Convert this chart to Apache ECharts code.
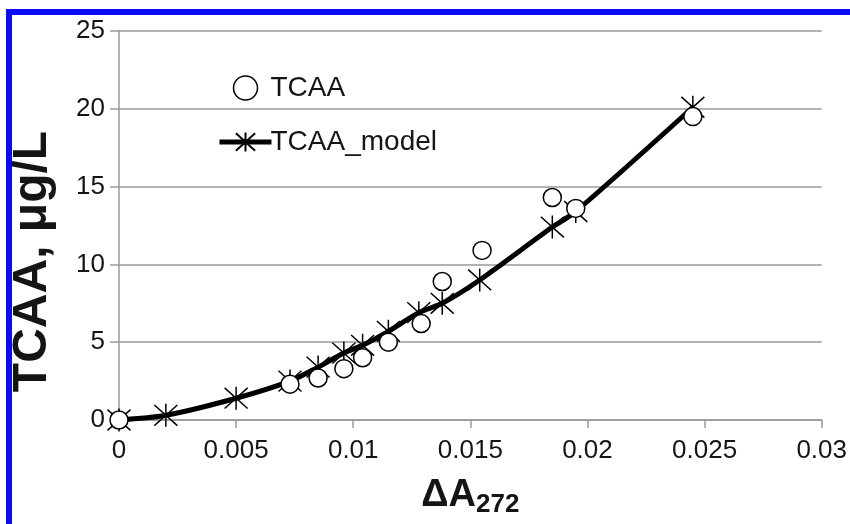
<!DOCTYPE html>
<html>
<head>
<meta charset="utf-8">
<script src="https://cdn.jsdelivr.net/npm/echarts@6/dist/echarts.min.js"></script>
<style>
  * { margin: 0; padding: 0; }
  body { background: #fff; }
  #main { width: 850px; height: 524px; }
  .frame {
    position: absolute; left: 6px; top: 9px; right: 0; bottom: 0;
    border-left: 6px solid #0b0bf5; border-top: 6px solid #0b0bf5;
    pointer-events: none;
  }
</style>
</head>
<body>
<div id="main"></div>
<div class="frame"></div>
<script>
  // measured TCAA
  var dA_meas = [0, 0.0073, 0.0085, 0.0096, 0.0104, 0.0115, 0.0129, 0.0138, 0.0155, 0.0185, 0.0195, 0.0245]
  var tcaa_meas = [0, 2.3, 2.7, 3.3, 4.0, 5.0, 6.2, 8.9, 10.9, 14.3, 13.6, 19.5]
  // model
  var dA_model = [0, 0.002, 0.005, 0.0073, 0.0085, 0.0096, 0.0104, 0.0115, 0.0128, 0.0138, 0.0154, 0.0185, 0.0195, 0.0245]
  var tcaa_model = [0, 0.3, 1.4, 2.5, 3.4, 4.3, 4.8, 5.7, 6.9, 7.5, 9.0, 12.4, 13.4, 20.1]
  var xTicks = ['0', '0.005', '0.01', '0.015', '0.02', '0.025', '0.03']

  function pairs(xs, ys) {
    return xs.map(function (x, i) { return [x, ys[i]] })
  }

  var star = 'path://M0,-10L0,10M-9,-9L9,9M-9,9L9,-9'
  var gray = '#9a9a9a'
  var txt = '#151515'

  var chart = echarts.init(document.getElementById('main'))
  chart.setOption({
    animation: false,
    textStyle: { fontFamily: 'Liberation Sans, Arial, sans-serif', color: txt },
    grid: { left: 119, right: 27, top: 31, bottom: 104 },
    legend: {
      orient: 'vertical',
      left: 212, top: 69,
      itemWidth: 52, itemHeight: 24, itemGap: 26,
      textStyle: { fontSize: 28, color: txt, padding: [0, 0, 0, -6] },
      data: [
        { name: 'TCAA', icon: 'circle', itemStyle: { color: '#fff', borderColor: '#000', borderWidth: 1.5 } },
        { name: 'TCAA_model', lineStyle: { color: '#000', width: 5 } }
      ]
    },
    xAxis: {
      type: 'value', min: 0, max: 0.03, interval: 0.005,
      name: '{a|ΔA}{b|272}', nameLocation: 'middle', nameGap: 54,
      nameTextStyle: {
        rich: {
          a: { fontSize: 38, fontWeight: 'bold', color: txt },
          b: { fontSize: 26, fontWeight: 'bold', color: txt, padding: [18, 0, 0, 0] }
        }
      },
      axisLine: { lineStyle: { color: gray, width: 1.5 } },
      axisTick: { length: 8, lineStyle: { color: gray, width: 1.5 } },
      axisLabel: {
        fontSize: 26, color: txt, margin: 18,
        formatter: function (v) { return xTicks[Math.round(v / 0.005)] }
      },
      splitLine: { show: false }
    },
    yAxis: {
      type: 'value', min: 0, max: 25, interval: 5,
      name: 'TCAA, μg/L', nameLocation: 'middle', nameGap: 62,
      nameTextStyle: { fontSize: 48, fontWeight: 'bold', color: txt, padding: [0, 72, 0, 0] },
      axisLine: { show: true, lineStyle: { color: gray, width: 1.5 } },
      axisTick: { show: true, length: 9, lineStyle: { color: gray, width: 1.5 } },
      axisLabel: { fontSize: 26, color: txt, margin: 14 },
      splitLine: { lineStyle: { color: gray, width: 1.5 } }
    },
    series: [
      {
        name: 'TCAA_model',
        type: 'line',
        data: pairs(dA_model, tcaa_model),
        smooth: 0.3,
        symbol: star,
        symbolSize: 23,
        lineStyle: { color: '#000', width: 5 },
        itemStyle: { color: '#000', borderColor: '#000', borderWidth: 1.5 },
        z: 2
      },
      {
        name: 'TCAA',
        type: 'scatter',
        data: pairs(dA_meas, tcaa_meas),
        symbol: 'circle',
        symbolSize: 18,
        itemStyle: { color: '#fff', borderColor: '#000', borderWidth: 1.5, opacity: 1 },
        z: 3
      }
    ]
  })
</script>
</body>
</html>
